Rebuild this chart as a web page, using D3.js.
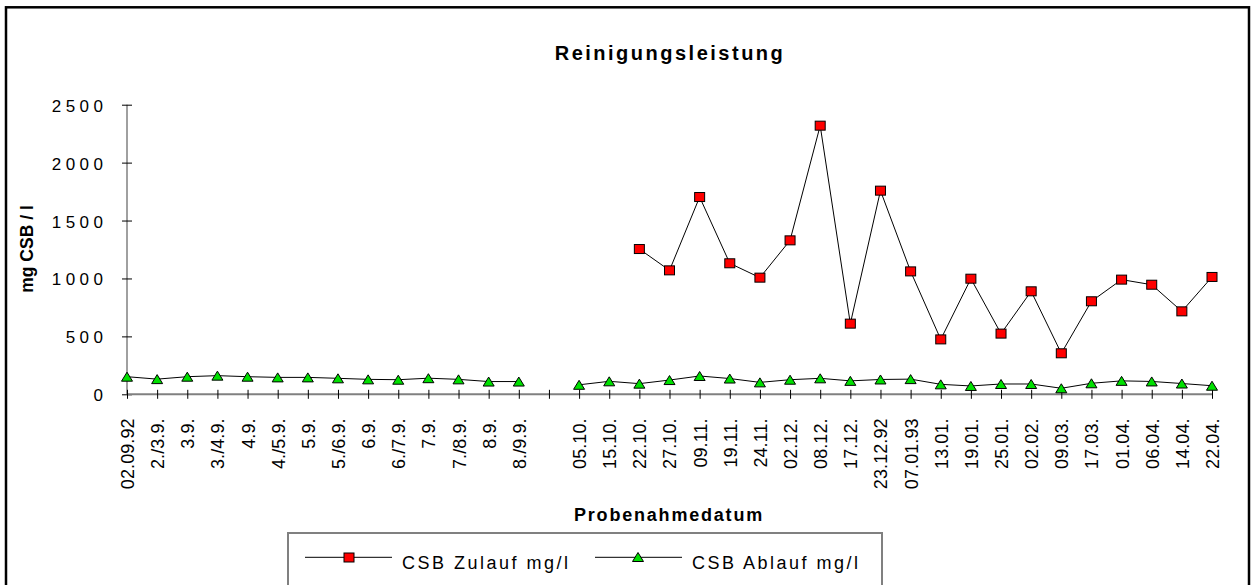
<!DOCTYPE html>
<html>
<head>
<meta charset="utf-8">
<script src="https://cdn.jsdelivr.net/npm/d3@7"></script>
<style>
  html, body { margin: 0; padding: 0; background: #fff; }
  svg { display: block; font-family: "Liberation Sans", Arial, sans-serif; }
</style>
</head>
<body>
<svg id="chart" width="1255" height="585"></svg>
<script>
// ---- data ----
const categories = ["02.09.92","2./3.9.","3.9.","3./4.9.","4.9.","4./5.9.","5.9.","5./6.9.","6.9.","6./7.9.","7.9.","7./8.9.","8.9.","8./9.9.","",
  "05.10.","15.10.","22.10.","27.10.","09.11.","19.11.","24.11.","02.12.","08.12.","17.12.","23.12.92","07.01.93",
  "13.01.","19.01.","25.01.","02.02.","09.03.","17.03.","01.04.","06.04.","14.04.","22.04."];
const zulauf = [null,null,null,null,null,null,null,null,null,null,null,null,null,null,null,null,null,
  1254,1070,1703,1131,1007,1329,2319,610,1758,1061,474,998,524,889,354,803,990,946,716,1013];
const ablauf = [152,131,152,161,152,146,146,138,129,126,139,129,110,110,null,
  82,112,92,123,158,136,103,126,138,116,128,131,86,72,89,89,52,95,116,111,93,74];
const yTicks = [0,500,1000,1500,2000,2500];
const seriesNames = ["CSB Zulauf mg/l","CSB Ablauf mg/l"];
const titleText = "Reinigungsleistung";
const xTitle = "Probenahmedatum";
const yTitle = "mg CSB / l";

// ---- layout ----
const svg = d3.select("#chart");
const x = d3.scalePoint().domain(d3.range(categories.length)).range([127, 1212]).padding(0);
const y = d3.scaleLinear().domain([0, 2500]).range([394.3, 104.7]);

// outer border
svg.append("rect").attr("x", 6).attr("y", 7.3).attr("width", 1243).attr("height", 620)
  .attr("fill", "none").attr("stroke", "#000").attr("stroke-width", 2.5);

// title
svg.append("text").attr("x", 670).attr("y", 60).attr("text-anchor", "middle")
  .attr("font-weight", "bold").attr("font-size", 20).style("letter-spacing", "2.5px")
  .text(titleText);

// y axis
const yAxis = svg.append("g").attr("transform", `translate(${x(0)},0)`)
  .call(d3.axisLeft(y).tickValues(yTicks).tickSize(5).tickPadding(0).tickFormat(d3.format("d")));
yAxis.select(".domain").attr("stroke", "#808080").attr("stroke-width", 1.5).attr("d", `M0,${y(2500)}V${y(0)}`);
yAxis.selectAll(".tick line").attr("x1", -5).attr("x2", 5).attr("stroke", "#000");
yAxis.selectAll(".tick text").attr("x", -19.5).attr("dy", "0.38em")
  .attr("font-size", 17).attr("fill", "#000").style("letter-spacing", "4.5px")
  .attr("font-family", "Liberation Sans, Arial, sans-serif");

// x axis
const xAxis = svg.append("g").attr("transform", `translate(0,${y(0)})`)
  .call(d3.axisBottom(x).tickSize(5).tickFormat(i => categories[i]));
xAxis.select(".domain").attr("stroke", "#808080").attr("stroke-width", 2).attr("d", `M${x(0)},0H${x(categories.length-1)}`);
xAxis.selectAll(".tick line").attr("y1", -4.5).attr("y2", 4.5).attr("stroke", "#000");
xAxis.selectAll(".tick text")
  .attr("transform", "rotate(-90)")
  .attr("x", -24).attr("y", 0).attr("dy", "0.36em")
  .attr("text-anchor", "end")
  .attr("font-size", 18).attr("fill", "#000").style("letter-spacing", "0.1px")
  .attr("font-family", "Liberation Sans, Arial, sans-serif");

// axis titles
svg.append("text").attr("x", 669).attr("y", 521).attr("text-anchor", "middle")
  .attr("font-weight", "bold").attr("font-size", 18).style("letter-spacing", "1.8px")
  .text(xTitle);
svg.append("text").attr("transform", "translate(33,249) rotate(-90)").attr("text-anchor", "middle")
  .attr("font-weight", "bold").attr("font-size", 17.5)
  .text(yTitle);

// lines
const line = d3.line().defined(d => d.v != null).x(d => x(d.i)).y(d => y(d.v));
const zData = zulauf.map((v, i) => ({i, v}));
const aData = ablauf.map((v, i) => ({i, v}));
svg.append("path").datum(zData).attr("d", line).attr("fill", "none").attr("stroke", "#000").attr("stroke-width", 1);
svg.append("path").datum(aData).attr("d", line).attr("fill", "none").attr("stroke", "#000").attr("stroke-width", 1);

const triPath = "M-5.5,4.5L5.5,4.5L0,-4.5Z";
const redFill = "#ff0000", greenFill = "#00e000";

svg.append("g").selectAll("rect").data(zData.filter(d => d.v != null)).join("rect")
  .attr("x", d => x(d.i) - 5).attr("y", d => y(d.v) - 4.5).attr("width", 10).attr("height", 9)
  .attr("fill", redFill).attr("stroke", "#000").attr("stroke-width", 1);
svg.append("g").selectAll("path").data(aData.filter(d => d.v != null)).join("path")
  .attr("transform", d => `translate(${x(d.i)},${y(d.v)})`).attr("d", triPath)
  .attr("fill", greenFill).attr("stroke", "#000").attr("stroke-width", 1);

// legend
const lg = svg.append("g");
lg.append("rect").attr("x", 288).attr("y", 533).attr("width", 594).attr("height", 100)
  .attr("fill", "none").attr("stroke", "#808080").attr("stroke-width", 2);
const legendItems = [
  {name: seriesNames[0], x0: 305, x1: 392, mx: 349, tx: 402, shape: "square"},
  {name: seriesNames[1], x0: 595, x1: 682, mx: 638, tx: 692, shape: "tri"}
];
legendItems.forEach(it => {
  lg.append("line").attr("x1", it.x0).attr("x2", it.x1).attr("y1", 557.3).attr("y2", 557.3)
    .attr("stroke", "#000").attr("stroke-width", 1);
  if (it.shape === "square") {
    lg.append("rect").attr("x", it.mx - 5).attr("y", 557.5 - 4.5).attr("width", 10).attr("height", 9)
      .attr("fill", redFill).attr("stroke", "#000");
  } else {
    lg.append("path").attr("transform", `translate(${it.mx},557)`).attr("d", triPath)
      .attr("fill", greenFill).attr("stroke", "#000");
  }
  lg.append("text").attr("x", it.tx).attr("y", 569).attr("font-size", 18)
    .style("letter-spacing", "2.5px").text(it.name);
});
</script>
</body>
</html>
